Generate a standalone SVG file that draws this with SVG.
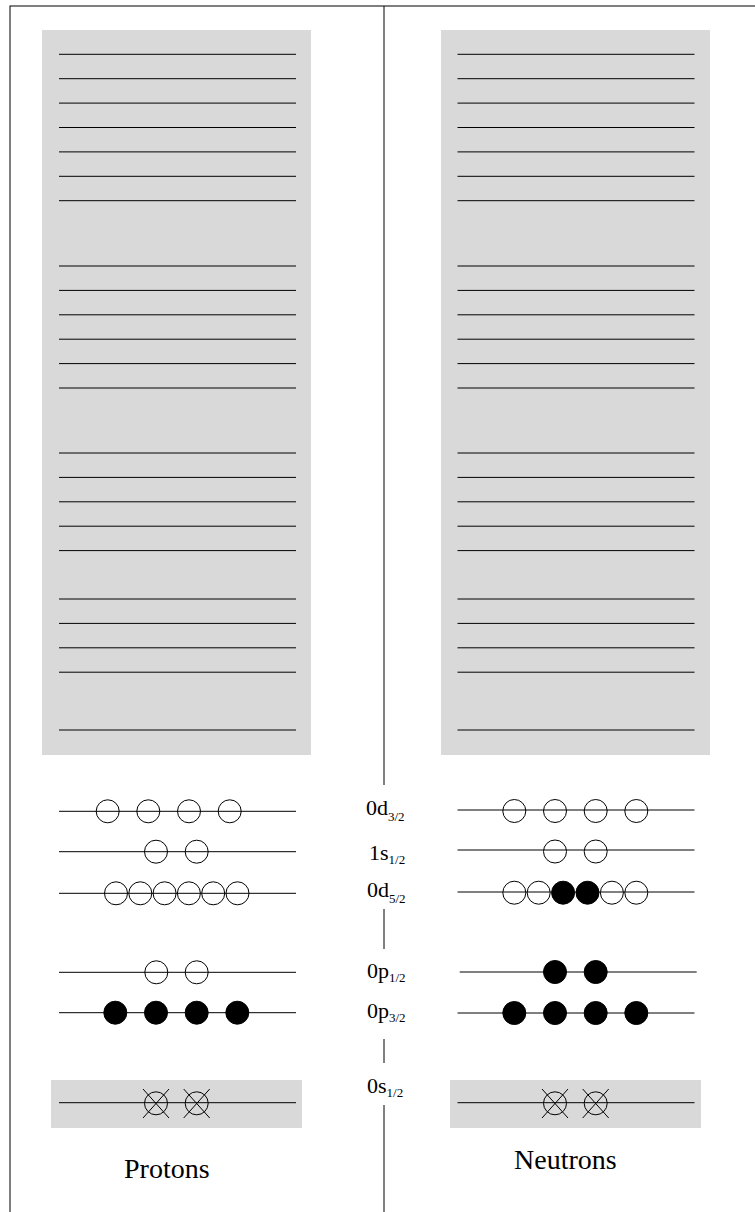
<svg xmlns="http://www.w3.org/2000/svg" width="755" height="1212" viewBox="0 0 755 1212">
<style>
.bg{fill:#d9d9d9;stroke:none}
.lv{stroke:#000;stroke-width:1;fill:none}
.o{fill:none;stroke:#000;stroke-width:1}
.f{fill:#000;stroke:#000;stroke-width:1}
.x{fill:none;stroke:#000;stroke-width:1}
.lab{font-family:"Liberation Serif","Times New Roman",serif;font-size:22px;fill:#000}
.sub{font-size:13px}
.big{font-family:"Liberation Serif","Times New Roman",serif;font-size:28px;fill:#000}
</style>
<rect width="755" height="1212" fill="#fff"/>
<rect x="10" y="6" width="760" height="1220" fill="none" stroke="#000" stroke-width="1"/>
<g id="connectors">
<line class="lv" x1="384" y1="6" x2="384" y2="785"/>
<line class="lv" x1="384" y1="909" x2="384" y2="949"/>
<line class="lv" x1="384" y1="1039" x2="384" y2="1063"/>
<line class="lv" x1="384" y1="1105" x2="384" y2="1212"/>
</g>
<g id="proton-upper">
<rect class="bg" x="42" y="30" width="269" height="725"/>
<g class="lv">
<line x1="59" y1="54.3" x2="296" y2="54.3"/>
<line x1="59" y1="78.7" x2="296" y2="78.7"/>
<line x1="59" y1="103.1" x2="296" y2="103.1"/>
<line x1="59" y1="127.5" x2="296" y2="127.5"/>
<line x1="59" y1="151.9" x2="296" y2="151.9"/>
<line x1="59" y1="176.3" x2="296" y2="176.3"/>
<line x1="59" y1="200.7" x2="296" y2="200.7"/>
<line x1="59" y1="266" x2="296" y2="266"/>
<line x1="59" y1="290.4" x2="296" y2="290.4"/>
<line x1="59" y1="314.8" x2="296" y2="314.8"/>
<line x1="59" y1="339.2" x2="296" y2="339.2"/>
<line x1="59" y1="363.6" x2="296" y2="363.6"/>
<line x1="59" y1="388" x2="296" y2="388"/>
<line x1="59" y1="453" x2="296" y2="453"/>
<line x1="59" y1="477.4" x2="296" y2="477.4"/>
<line x1="59" y1="501.8" x2="296" y2="501.8"/>
<line x1="59" y1="526.2" x2="296" y2="526.2"/>
<line x1="59" y1="550.6" x2="296" y2="550.6"/>
<line x1="59" y1="599" x2="296" y2="599"/>
<line x1="59" y1="623.4" x2="296" y2="623.4"/>
<line x1="59" y1="647.8" x2="296" y2="647.8"/>
<line x1="59" y1="672.2" x2="296" y2="672.2"/>
<line x1="59" y1="730" x2="296" y2="730"/>
</g>
</g>
<g id="neutron-upper">
<rect class="bg" x="441" y="30" width="269" height="725"/>
<g class="lv">
<line x1="457.5" y1="54.3" x2="694.5" y2="54.3"/>
<line x1="457.5" y1="78.7" x2="694.5" y2="78.7"/>
<line x1="457.5" y1="103.1" x2="694.5" y2="103.1"/>
<line x1="457.5" y1="127.5" x2="694.5" y2="127.5"/>
<line x1="457.5" y1="151.9" x2="694.5" y2="151.9"/>
<line x1="457.5" y1="176.3" x2="694.5" y2="176.3"/>
<line x1="457.5" y1="200.7" x2="694.5" y2="200.7"/>
<line x1="457.5" y1="266" x2="694.5" y2="266"/>
<line x1="457.5" y1="290.4" x2="694.5" y2="290.4"/>
<line x1="457.5" y1="314.8" x2="694.5" y2="314.8"/>
<line x1="457.5" y1="339.2" x2="694.5" y2="339.2"/>
<line x1="457.5" y1="363.6" x2="694.5" y2="363.6"/>
<line x1="457.5" y1="388" x2="694.5" y2="388"/>
<line x1="457.5" y1="453" x2="694.5" y2="453"/>
<line x1="457.5" y1="477.4" x2="694.5" y2="477.4"/>
<line x1="457.5" y1="501.8" x2="694.5" y2="501.8"/>
<line x1="457.5" y1="526.2" x2="694.5" y2="526.2"/>
<line x1="457.5" y1="550.6" x2="694.5" y2="550.6"/>
<line x1="457.5" y1="599" x2="694.5" y2="599"/>
<line x1="457.5" y1="623.4" x2="694.5" y2="623.4"/>
<line x1="457.5" y1="647.8" x2="694.5" y2="647.8"/>
<line x1="457.5" y1="672.2" x2="694.5" y2="672.2"/>
<line x1="457.5" y1="730" x2="694.5" y2="730"/>
</g>
</g>
<g id="p-0d32">
<line class="lv" x1="59" y1="811.3" x2="296" y2="811.3"/>
<circle class="o" cx="107.7" cy="811.3" r="11.5"/>
<circle class="o" cx="148.3" cy="811.3" r="11.5"/>
<circle class="o" cx="189" cy="811.3" r="11.5"/>
<circle class="o" cx="229.7" cy="811.3" r="11.5"/>
</g>
<g id="p-1s12">
<line class="lv" x1="59" y1="851.7" x2="296" y2="851.7"/>
<circle class="o" cx="156" cy="851.7" r="11.5"/>
<circle class="o" cx="196.7" cy="851.7" r="11.5"/>
</g>
<g id="p-0d52">
<line class="lv" x1="59" y1="893.3" x2="296" y2="893.3"/>
<circle class="o" cx="116" cy="893.3" r="11.5"/>
<circle class="o" cx="140.3" cy="893.3" r="11.5"/>
<circle class="o" cx="164.6" cy="893.3" r="11.5"/>
<circle class="o" cx="188.9" cy="893.3" r="11.5"/>
<circle class="o" cx="213.2" cy="893.3" r="11.5"/>
<circle class="o" cx="237.5" cy="893.3" r="11.5"/>
</g>
<g id="p-0p12">
<line class="lv" x1="59" y1="972.3" x2="296" y2="972.3"/>
<circle class="o" cx="156.3" cy="972.3" r="11.5"/>
<circle class="o" cx="196.7" cy="972.3" r="11.5"/>
</g>
<g id="p-0p32">
<line class="lv" x1="59" y1="1012.7" x2="296" y2="1012.7"/>
<circle class="f" cx="115.3" cy="1012.7" r="11.5"/>
<circle class="f" cx="156" cy="1012.7" r="11.5"/>
<circle class="f" cx="196.7" cy="1012.7" r="11.5"/>
<circle class="f" cx="237.3" cy="1012.7" r="11.5"/>
</g>
<g id="p-0s12">
<rect class="bg" x="51" y="1080" width="251" height="48"/>
<line class="lv" x1="59" y1="1102.7" x2="296" y2="1102.7"/>
<circle class="x" cx="156" cy="1103.3" r="11.5"/>
<path class="x" d="M143 1089 L169 1118 M169 1089 L143 1118"/>
<circle class="x" cx="196.7" cy="1103.3" r="11.5"/>
<path class="x" d="M183.7 1089 L209.7 1118 M209.7 1089 L183.7 1118"/>
</g>
<g id="n-0d32">
<line class="lv" x1="457.5" y1="810" x2="694.5" y2="810"/>
<circle class="o" cx="514.3" cy="811" r="11.5"/>
<circle class="o" cx="555" cy="811" r="11.5"/>
<circle class="o" cx="595.7" cy="811" r="11.5"/>
<circle class="o" cx="636.3" cy="811" r="11.5"/>
</g>
<g id="n-1s12">
<line class="lv" x1="457.5" y1="850" x2="694.5" y2="850"/>
<circle class="o" cx="555" cy="851.5" r="11.5"/>
<circle class="o" cx="595.7" cy="851.5" r="11.5"/>
</g>
<g id="n-0d52">
<line class="lv" x1="457.5" y1="892" x2="694.5" y2="892"/>
<circle class="o" cx="514.3" cy="892.7" r="11.5"/>
<circle class="o" cx="538.7" cy="892.7" r="11.5"/>
<circle class="f" cx="563.1" cy="892.7" r="11.5"/>
<circle class="f" cx="587.5" cy="892.7" r="11.5"/>
<circle class="o" cx="611.9" cy="892.7" r="11.5"/>
<circle class="o" cx="636.3" cy="892.7" r="11.5"/>
</g>
<g id="n-0p12">
<line class="lv" x1="459.7" y1="972" x2="696.7" y2="972"/>
<circle class="f" cx="555" cy="972" r="11.5"/>
<circle class="f" cx="595.7" cy="972" r="11.5"/>
</g>
<g id="n-0p32">
<line class="lv" x1="457.5" y1="1013" x2="694.5" y2="1013"/>
<circle class="f" cx="514.3" cy="1013" r="11.5"/>
<circle class="f" cx="555" cy="1013" r="11.5"/>
<circle class="f" cx="595.7" cy="1013" r="11.5"/>
<circle class="f" cx="636.3" cy="1013" r="11.5"/>
</g>
<g id="n-0s12">
<rect class="bg" x="450" y="1080" width="251" height="48"/>
<line class="lv" x1="457.5" y1="1102.7" x2="694.5" y2="1102.7"/>
<circle class="x" cx="555" cy="1103.3" r="11.5"/>
<path class="x" d="M542 1089 L568 1118 M568 1089 L542 1118"/>
<circle class="x" cx="595.7" cy="1103.3" r="11.5"/>
<path class="x" d="M582.7 1089 L608.7 1118 M608.7 1089 L582.7 1118"/>
</g>
<g id="labels">
<text class="lab" x="366" y="815">0d<tspan class="sub" dy="6">3/2</tspan></text>
<text class="lab" x="369" y="860">1s<tspan class="sub" dy="4">1/2</tspan></text>
<text class="lab" x="367" y="897">0d<tspan class="sub" dy="6">5/2</tspan></text>
<text class="lab" x="367" y="978">0p<tspan class="sub" dy="4">1/2</tspan></text>
<text class="lab" x="367" y="1018">0p<tspan class="sub" dy="4">3/2</tspan></text>
<text class="lab" x="367" y="1093">0s<tspan class="sub" dy="4">1/2</tspan></text>
</g>
<g id="title-protons"><text class="big" x="124" y="1178">Protons</text></g>
<g id="title-neutrons"><text class="big" x="514" y="1169">Neutrons</text></g>
</svg>
